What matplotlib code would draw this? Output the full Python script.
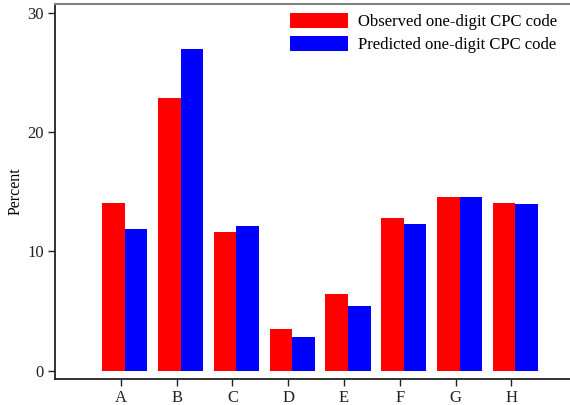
import numpy as np
import matplotlib.pyplot as plt

# share of patents by one-digit CPC section
sections = ['A', 'B', 'C', 'D', 'E', 'F', 'G', 'H']
observed = [14.1, 22.9, 11.6, 3.5, 6.4, 12.8, 14.6, 14.1]
predicted = [11.9, 27.0, 12.1, 2.8, 5.4, 12.3, 14.6, 14.0]

plt.rcParams['font.family'] = ['Liberation Serif', 'DejaVu Serif']

fig = plt.figure(figsize=(5.7, 4.05), dpi=100)
ax = fig.add_axes([55 / 570, 1 - 379 / 405, 1 - 55 / 570, 375 / 405])

x = np.arange(len(sections))
w = 0.405
ax.bar(x - 0.13, observed, width=w, color='#ff0000', label='Observed one-digit CPC code')
ax.bar(x - 0.13 + w, predicted, width=w, color='#0000ff', label='Predicted one-digit CPC code')

ax.set_xlim(-1.18, 8.05)
ax.set_ylim(-0.7, 30.75)
ax.set_xticks(x)
ax.set_xticklabels(sections)
ax.set_yticks([0, 10, 20, 30])
ax.tick_params(labelsize=12, length=5, width=1, colors='#222222', pad=3)
ax.set_ylabel('Percent', fontsize=11.5, labelpad=3)

for side in ['left', 'bottom']:
    ax.spines[side].set_color('#222222')
    ax.spines[side].set_linewidth(1.3)
ax.spines['right'].set_visible(False)
ax.spines['top'].set_color('#808080')
ax.spines['top'].set_linewidth(1.5)

leg = ax.legend(loc='upper left', bbox_to_anchor=(290 / 570, 1 - 13 / 405),
                bbox_transform=fig.transFigure, frameon=False, fontsize=12,
                handlelength=3.5, handleheight=1.0, labelspacing=0.33,
                handletextpad=0.6, borderpad=0, borderaxespad=0)

fig.savefig('out.png', dpi=100)
